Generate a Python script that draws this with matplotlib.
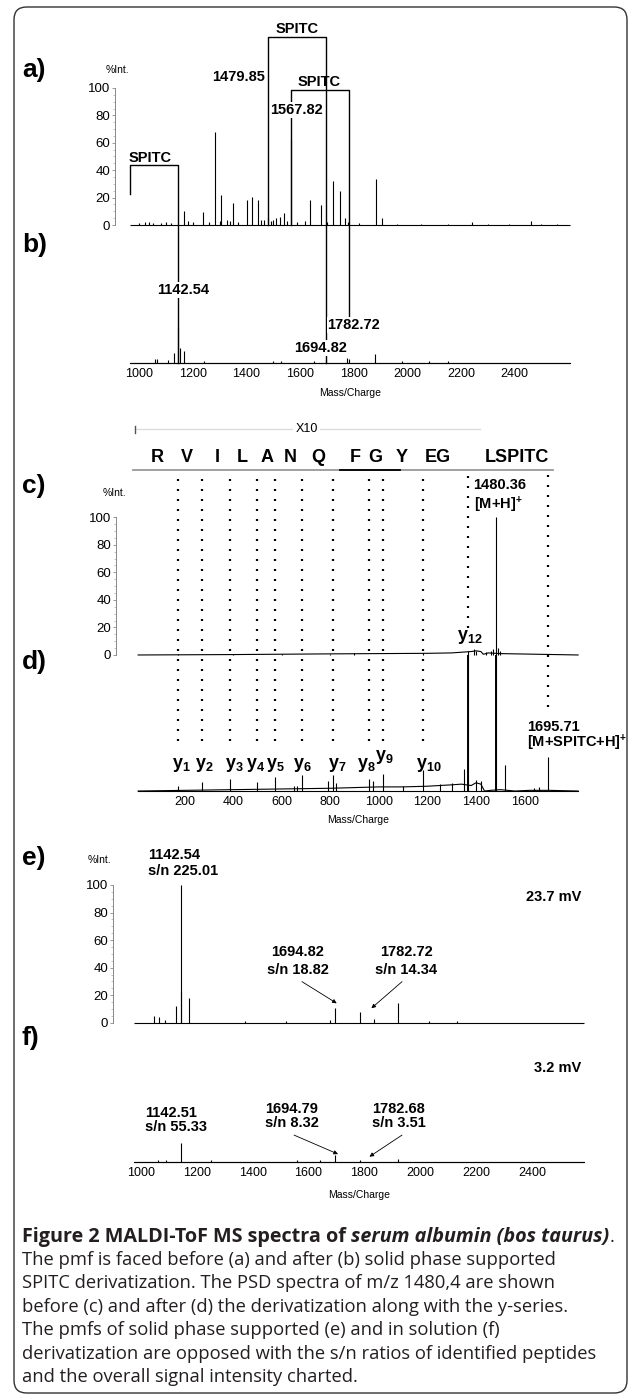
import matplotlib
matplotlib.use("Agg")
import matplotlib.pyplot as plt
from matplotlib.patches import FancyBboxPatch
from matplotlib.ticker import FixedLocator

plt.rcParams['font.family'] = ['Liberation Sans', 'DejaVu Sans']
plt.rcParams['mathtext.fontset'] = 'custom'
plt.rcParams['mathtext.rm'] = 'Liberation Sans'
plt.rcParams['mathtext.bf'] = 'Liberation Sans:bold'
plt.rcParams['mathtext.it'] = 'Liberation Sans:italic'

W, H = 633, 1400

# ---- a) pmf before derivatization (%Int.)
A_MZ = [1000, 1020, 1037, 1050, 1080, 1100, 1120, 1166.7, 1180, 1200, 1237.6, 1260,
        1282.9, 1300, 1305.5, 1328, 1340, 1350.8, 1370, 1400.6, 1420.2, 1441.3, 1455,
        1465, 1479.85, 1490, 1500, 1509, 1524, 1539.4, 1550, 1567.82, 1590, 1620,
        1637.5, 1678.2, 1700, 1723.5, 1750.7, 1765.8, 1780, 1820, 1882, 1906, 1960,
        2050, 2150, 2241, 2300, 2380, 2460, 2500, 2560]
A_INT = [1.5, 2, 2, 1.5, 1.5, 2, 1.5, 10, 3, 2, 9.8, 2,
         67.9, 3, 21.8, 4, 3, 15.7, 2, 18, 20.8, 18, 4,
         4, 5, 3, 4, 5, 6, 8.6, 3, 63, 2, 3,
         18, 14.7, 2, 32, 24.5, 5, 2, 1.5, 33.6, 5, 1,
         1, 1, 2, 1, 1, 3, 1, 1]
# ---- b) pmf after solid phase SPITC derivatization
B_MZ = [1060, 1065, 1108, 1131, 1142.54, 1150, 1165, 1240, 1500, 1530, 1650,
        1694.82, 1775, 1782.72, 1879, 1980, 2080, 2150]
B_INT = [3, 3, 2, 7, 26, 10.7, 8.5, 1.5, 1.5, 1.5, 1.5,
         3, 3.5, 3, 6.5, 1, 1, 1]
# SPITC brackets (unlabelled mass -> labelled mass, +215 Da)
BR_LEFT = [966, 1479.85, 1567.82]
BR_RIGHT = [1142.54, 1694.82, 1782.72]
BR_TOP = [43.8, 137.4, 98.5]

# ---- c) PSD of m/z 1480 before, d) after derivatization
C_MZ = [175, 400, 600, 800, 900, 1180, 1368, 1390, 1400, 1440, 1460, 1470,
        1480.36, 1490, 1500]
C_INT = [1, 1, 1, 1, 1.5, 1.5, 3, 4, 3, 2, 3, 4, 100, 5, 3]
C_BASE_MZ = [10, 400, 800, 1200, 1300, 1380, 1400, 1420, 1430, 1450, 1500, 1820]
C_BASE_LVL = [0, 0.3, 0.8, 1.2, 1.5, 2.5, 3, 2.5, 0.5, 1.5, 1, 0]
D_MZ = [175.1, 274.2, 387.3, 500.3, 571.4, 650, 665, 685.4, 790, 813.5, 825,
        960.6, 975, 1017.6, 1100, 1180.6, 1250, 1300, 1350, 1366.7, 1400, 1420,
        1480.36, 1520, 1640, 1660, 1695.71]
D_INT = [4, 6.7, 8.7, 6.7, 10, 4, 4, 11.6, 7, 11.6, 6,
         9, 7, 12.3, 4, 15.2, 5, 6, 16, 98.8, 8, 7,
         98.8, 18.8, 2, 3, 24.4]
D_BASE_MZ = [10, 200, 400, 600, 800, 900, 1000, 1100, 1200, 1300, 1340, 1380,
             1400, 1420, 1435, 1460, 1500, 1560, 1620, 1700, 1820]
D_BASE_LVL = [0, 0.5, 1, 1.5, 2, 2.5, 3, 3, 3.5, 4.5, 5, 4,
              6, 5, 0, 0.5, 1, 0, 0.5, 0.5, 0]
# y-series of LGEYGFQNALIVR
Y_ION_MZ = [175.1, 274.2, 387.3, 500.3, 571.4, 685.4, 813.5, 960.6, 1017.6,
            1180.6, 1366.7, 1695.7]
Y_LABELS = ['1', '2', '3', '4', '5', '6', '7', '8', '9', '10']
Y_LABEL_MZ = [186, 281, 405, 494, 576, 686, 830, 950, 1024, 1207]
SEQ_LETTERS = ['R', 'V', 'I', 'L', 'A', 'N', 'Q', 'F', 'G', 'Y', 'EG', 'LSPITC']
SEQ_MZ = [87.6, 211.8, 333.9, 436.6, 539.5, 634.4, 750.2, 902.1, 984.4, 1094,
          1243.5, 1567.3]

# ---- e) solid phase supported, f) in solution derivatization
E_MZ = [1048, 1065.6, 1087.4, 1126.8, 1142.54, 1145, 1172.2, 1372, 1518, 1676.2,
        1694.82, 1782.72, 1832.6, 1920.3, 2029.8, 2131]
E_INT = [5, 4, 2, 12, 100, 22, 18, 1.5, 1.5, 2,
         11, 8, 3, 14.4, 1.5, 1.5]
F_MZ = [1060, 1090, 1142.51, 1250, 1560, 1640, 1694.79, 1782.68, 1920]
F_INT = [1.5, 1.5, 13.4, 1, 1, 1, 4.9, 1.5, 2]

CAPTION = [
    "The pmf is faced before (a) and after (b) solid phase supported",
    "SPITC derivatization. The PSD spectra of m/z 1480,4 are shown",
    "before (c) and after (d) the derivatization along with the y-series.",
    "The pmfs of solid phase supported (e) and in solution (f)",
    "derivatization are opposed with the s/n ratios of identified peptides",
    "and the overall signal intensity charted.",
]

fig = plt.figure(figsize=(W / 100, H / 100), dpi=100)

frame = FancyBboxPatch((14 / W, 7 / H), 613 / W, 1386 / H,
                       boxstyle="round,pad=0,rounding_size=0.02",
                       transform=fig.transFigure, fc='none', ec='#333333',
                       lw=1.0, mutation_aspect=W / H)
fig.patches.append(frame)

TICK_X = 9
TICK_Y = 9.5
SMALL = 7.5


def panel(x0, y0, x1, y1, xlim, ylim):
    ax = fig.add_axes([x0 / W, 1 - y1 / H, (x1 - x0) / W, (y1 - y0) / H])
    ax.set_xlim(xlim)
    ax.set_ylim(ylim)
    ax.patch.set_visible(False)
    for s in ('top', 'right'):
        ax.spines[s].set_visible(False)
    return ax


def y_axis(ax, xpos):
    ax.spines['left'].set_position(('data', xpos))
    ax.spines['left'].set_bounds(0, 100)
    ax.spines['left'].set_color('#888888')
    ax.spines['left'].set_linewidth(0.7)
    ax.set_yticks(range(0, 101, 20))
    ax.yaxis.set_minor_locator(FixedLocator(range(0, 101, 5)))
    ax.tick_params(axis='y', which='major', length=2.5, width=0.6,
                   color='#888888', labelsize=TICK_Y, pad=1)
    ax.tick_params(axis='y', which='minor', length=1.2, width=0.5,
                   color='#aaaaaa')


def x_axis(ax, base, lo, hi, ticks):
    ax.spines['bottom'].set_position(('data', base))
    ax.spines['bottom'].set_bounds(lo, hi)
    ax.spines['bottom'].set_linewidth(0.8)
    ax.set_xticks(ticks)
    ax.tick_params(axis='x', length=0, labelsize=TICK_X, pad=3.5)


def spectrum(ax, lo, hi, base, mz, inten, lw=0.8):
    ax.plot([lo, hi], [base, base], color='k', lw=lw, solid_capstyle='butt')
    ax.vlines(mz, base, [base + v for v in inten], color='k', lw=lw)


bold = dict(fontsize=10.5, fontweight='bold')
white = dict(fc='white', ec='none', pad=0.6)

# ---------------- a / b ----------------
ax = panel(100, 10, 600, 410, (853.3, 2719.0), (-135.0, 156.9))
B_BASE = -100.5
y_axis(ax, 909.3)
x_axis(ax, B_BASE, 966, 2608, range(1000, 2401, 200))
spectrum(ax, 966, 2608, 0, A_MZ, A_INT)
spectrum(ax, 966, 2608, B_BASE, B_MZ, B_INT)
ax.text(917.8, 113.1, '%Int.', fontsize=SMALL, ha='center', va='center')
ax.text(1787, -122.6, 'Mass/Charge', fontsize=SMALL, ha='center', va='center')
left_bottom = [22.4, 0, 0]
right_bottom = [B_BASE, B_BASE, -68]
for l, r, t, lb, rb in zip(BR_LEFT, BR_RIGHT, BR_TOP, left_bottom, right_bottom):
    ax.plot([l, l, r, r], [lb, t, t, rb], color='k', lw=1.0)
for x, y in [(1040, 48.7), (1589, 142.8), (1672, 104.6)]:
    ax.text(x, y, 'SPITC', ha='center', va='center', **bold)
ax.text(1470, 108.2, '1479.85', ha='right', va='center', **bold)
ax.text(1588, 84, '1567.82', ha='center', va='center', bbox=white, zorder=5, **bold)
ax.text(1162, -47.4, '1142.54', ha='center', va='center', bbox=white, zorder=5, **bold)
ax.text(1676, -90, '1694.82', ha='center', va='center', bbox=white, zorder=5, **bold)
ax.text(1801, -73, '1782.72', ha='center', va='center', bbox=white, zorder=5, **bold)

# ---------------- c / d ----------------
ax = panel(100, 410, 600, 830, (-146.9, 1910.0), (-127.1, 177.9))
D_BASE = -98.8
y_axis(ax, -81.0)
x_axis(ax, D_BASE, 10, 1820, range(200, 1601, 200))
ax.plot(C_BASE_MZ, C_BASE_LVL, color='k', lw=0.8)
ax.vlines(C_MZ, 0, C_INT, color='k', lw=0.8)
ax.plot(D_BASE_MZ, [D_BASE + v for v in D_BASE_LVL], color='k', lw=0.8)
ax.vlines(D_MZ, D_BASE, [D_BASE + v for v in D_INT], color='k', lw=0.8)
ax.vlines([1366.7, 1480.36], D_BASE, [D_BASE + 98.8] * 2, color='k', lw=1.4)
ax.text(-89.3, 117.4, '%Int.', fontsize=SMALL, ha='center', va='center')
ax.text(915, -119.8, 'Mass/Charge', fontsize=SMALL, ha='center', va='center')
dot_bottom = [-62.5] * 10 + [19.6, -37.8]
ax.vlines(Y_ION_MZ, dot_bottom, 130.7, color='k', lw=1.6,
          linestyles=[(0, (0.9, 3.6))])
for lab, x in zip(Y_LABELS, Y_LABEL_MZ):
    yy = -74.1 if lab == '9' else -79.9
    ax.text(x, yy, r'$\mathbf{y_{%s}}$' % lab, fontsize=13, ha='center', va='center')
ax.text(1373, 13.3, r'$\mathbf{y_{12}}$', fontsize=13, ha='center', va='center')
ax.text(1390, 123.5, '1480.36', ha='left', va='center', **bold)
ax.text(1390, 108.9, r'[M+H]$^{\mathbf{+}}$', ha='left', va='center', **bold)
ax.text(1609, -52.1, '1695.71', ha='left', va='center', clip_on=False, **bold)
ax.text(1609, -64.1, r'[M+SPITC+H]$^{\mathbf{+}}$', ha='left', va='center',
        clip_on=False, **bold)
# sequence read from the y-series
for s, x in zip(SEQ_LETTERS, SEQ_MZ):
    ax.text(x, 143.1, s, fontsize=13, fontweight='bold', ha='center', va='center')
ax.plot([-11, 1716.6], [134.3, 134.3], color='#999999', lw=1.3)
ax.plot([840, 1087], [134.3, 134.3], color='k', lw=1.3)
ax.plot([-2.9, 1416.3], [163.9, 163.9], color='#dddddd', lw=1.0)
ax.plot([-2.9, -2.9], [161.5, 166.3], color='#555555', lw=1.0)
ax.text(703.4, 163.9, 'X10', fontsize=TICK_X, ha='center', va='center',
        bbox=dict(fc='white', ec='none', pad=1.5))

# ---------------- e / f ----------------
ax = panel(100, 835, 600, 1210, (853.7, 2643.2), (-136.0, 136.3))
F_BASE = -100.9
y_axis(ax, 900.2)
x_axis(ax, F_BASE, 975, 2586, range(1000, 2401, 200))
spectrum(ax, 975, 2586, 0, E_MZ, E_INT)
spectrum(ax, 975, 2586, F_BASE, F_MZ, F_INT)
ax.text(850.1, 118.2, '%Int.', fontsize=SMALL, ha='center', va='center', clip_on=False)
ax.text(1780, -125.1, 'Mass/Charge', fontsize=SMALL, ha='center', va='center')
ax.text(1026.6, 121.8, '1142.54', ha='left', va='center', **bold)
ax.text(1026.6, 110.2, 's/n 225.01', ha='left', va='center', **bold)
ax.text(2575.3, 91.5, '23.7 mV', ha='right', va='center', **bold)
ax.text(2575.3, -32.7, '3.2 mV', ha='right', va='center', **bold)
ax.text(1014.8, -65.8, '1142.51', ha='left', va='center', **bold)
ax.text(1014.8, -75.5, 's/n 55.33', ha='left', va='center', **bold)
notes = [
    (1560.9, 51.6, 38.3, '1694.82', 's/n 18.82', (1576.7, 29.8), (1700.9, 14.1)),
    (1948.9, 51.6, 38.3, '1782.72', 's/n 14.34', (1934.6, 29.8), (1825.1, 10.5)),
    (1541.0, -62.9, -73.1, '1694.79', 's/n 8.32', (1548.1, -81.6), (1705.6, -95.4)),
    (1923.8, -62.9, -73.1, '1782.68', 's/n 3.51', (1934.6, -81.6), (1818.0, -97.3)),
]
for x, y1, y2, t1, t2, start, end in notes:
    ax.text(x, y1, t1, ha='center', va='center', **bold)
    ax.text(x, y2, t2, ha='center', va='center', **bold)
    ax.annotate('', xy=end, xytext=start,
                arrowprops=dict(arrowstyle='-|>', lw=0.6, color='k',
                                mutation_scale=6, shrinkA=0, shrinkB=0))

# ---------------- panel letters ----------------
for lab, yc in [('a)', 70), ('b)', 245), ('c)', 486), ('d)', 662),
                ('e)', 858), ('f)', 1038)]:
    fig.text(22 / W, 1 - yc / H, lab, fontsize=19, fontweight='bold',
             ha='left', va='center')

# ---------------- caption ----------------
cap_font = ['Open Sans', 'DejaVu Sans']
cap_size = 13.2
renderer = fig.canvas.get_renderer()
x = 22
pieces = [("Figure 2 MALDI-ToF MS spectra of ", 'bold', 'normal', 14.2),
          ("serum albumin (bos taurus)", 'bold', 'italic', 14.2),
          (".", 'normal', 'normal', cap_size)]
for txt, wgt, sty, size in pieces:
    t = fig.text(x / W, 1 - 1236.7 / H, txt, family=cap_font, fontsize=size,
                 fontweight=wgt, fontstyle=sty, color='#231f20',
                 ha='left', va='center')
    x = t.get_window_extent(renderer).x1
for i, line in enumerate(CAPTION):
    fig.text(22 / W, 1 - (1260 + 23.4 * i) / H, line, family=cap_font,
             fontsize=cap_size, color='#231f20', ha='left', va='center')

fig.savefig('out.png', dpi=100)
